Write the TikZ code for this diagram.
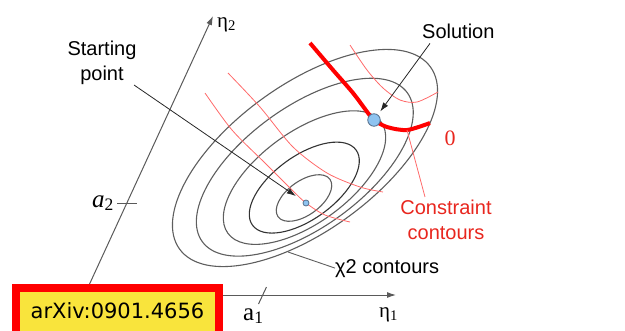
\documentclass[tikz,border=0pt]{standalone}
\usepackage{fontspec}
\newfontfamily\labfont{Liberation Sans}
\newfontfamily\symfont{Liberation Serif}
\newfontfamily\boxfont{DejaVu Sans}
\usepackage{tikz}
\usetikzlibrary{arrows.meta,positioning,calc}
\definecolor{AxisGrey}{HTML}{5A5A5A}
\definecolor{ContGrey}{HTML}{5E5E5E}
\definecolor{ThinRed}{HTML}{FF6A6A}
\definecolor{ConRed}{HTML}{FF0000}
\definecolor{LabelRed}{HTML}{E8261E}
\definecolor{DotBlue}{HTML}{8EC3F0}
\definecolor{DotEdge}{HTML}{56708C}
\definecolor{BoxRed}{HTML}{FF0000}
\definecolor{BoxYellow}{HTML}{F9E43C}
\tikzset{
  >={Latex[length=9pt,width=6pt]},
  lbl/.style={font=\labfont\fontsize{20}{25}\selectfont, align=center, inner sep=0pt},
  redlbl/.style={lbl, text=LabelRed},
  mathlbl/.style={font=\symfont\fontsize{21}{24}\selectfont, inner sep=0pt},
  biglbl/.style={font=\symfont\fontsize{25}{28}\selectfont, inner sep=0pt},
  axis/.style={->, draw=AxisGrey, line width=1pt},
  tickmark/.style={draw=AxisGrey, line width=1pt},
  chicont/.style={draw=ContGrey, line width=1.1pt},
  concont/.style={draw=ThinRed, line width=0.8pt},
  conzero/.style={draw=ConRed, line width=4pt},
  leader/.style={->, draw=black!85, line width=0.8pt},
  chileader/.style={draw=ContGrey, line width=0.9pt},
  soldot/.style={circle, fill=DotBlue, draw=DotEdge, line width=0.8pt, minimum size=12.5pt, inner sep=0pt},
  startdot/.style={circle, fill=DotBlue, draw=DotEdge, line width=0.8pt, minimum size=6pt, inner sep=0pt},
  arxiv/.style={draw=BoxRed, line width=8pt, fill=BoxYellow,
    font=\boxfont\fontsize{21}{24}\selectfont,
    minimum width=203pt, minimum height=50pt, text height=16pt, text depth=6pt, inner sep=0pt}
}

\begin{document}
\begin{tikzpicture}[x=1pt, y=-1pt]
  \clip (0,0) rectangle (625,330);

  % axes
  \coordinate (O) at (84.5,295);
  \coordinate (e1tip) at (396,295);
  \coordinate (e2tip) at (213,16);
  \draw[axis] (O) -- (e1tip);
  \draw[axis] (O) -- (e2tip);
  \draw[tickmark] (117,203) -- (137,203);
  \draw[tickmark] (258.5,304) -- (266.5,287);
  \node[mathlbl, anchor=base west] (eta1) at (379,317) {η\textsubscript{1}};
  \node[mathlbl, anchor=base west] (eta2) at (217,27) {η\textsubscript{2}};
  \node[biglbl, anchor=base west] (a2) at (92,207) {{\itshape a}\textsubscript{2}};
  \node[biglbl, anchor=base west] (a1) at (243,320) {a\textsubscript{1}};

  % chi2 contours
  \foreach \cx/\cy/\ra/\rb/\col in {304/198/32/17/ContGrey, 304.3/187.6/64/31.6/black!80,
      304.5/177.6/94.7/45.6/ContGrey, 304.8/167.2/126.7/60.1/ContGrey, 305/158/155/73/ContGrey}
    \draw[chicont, draw=\col, shift={(\cx,\cy)}, rotate=36] (0,0) ellipse [x radius=\ra, y radius=\rb];

  % constraint contours
  \draw[concont] plot[smooth] coordinates {(205,93) (232,130) (265,163) (292,190) (306,203) (325,215) (350,222)};
  \draw[concont] plot[smooth] coordinates {(228,73) (260,107) (293,147) (327,173) (360,187) (383,192)};
  \draw[concont] plot[smooth] coordinates {(350,45) (367,70) (383,88) (400,100) (417,102) (438,92)};
  \draw[conzero] plot[smooth] coordinates {(310,43) (333,70) (353,93) (368,113) (374,120) (387,127) (407,130) (430,123)};
  \node[text=LabelRed, font=\symfont\fontsize{22}{24}\selectfont, inner sep=0pt, anchor=base] (zero) at (450,145) {0};

  % points
  \node[startdot] (start) at (306,203) {};
  \node[soldot] (sol) at (374,120) {};

  % labels
  \node[lbl] (startlbl) at (102,63) {Starting\\point};
  \node[lbl, anchor=base west] (sollbl) at (422,38) {Solution};
  \node[redlbl] (conlbl) at (446,220) {Constraint\\contours};
  \node[lbl, anchor=base west] (chilbl) at (335,273) {χ2 contours};
  \coordinate (ck) at (407,130);
  \coordinate (ch) at (288,252);

  \draw[leader, shorten >=9pt] (startlbl) -- (start);
  \draw[leader, shorten >=4pt] ([shift={(8,5)}]sollbl.south west) -- (sol);
  \draw[concont] (ck) -- ([shift={(-21,-3)}]conlbl.north);
  \draw[chileader] (ch) -- (chilbl.west);

  \node[arxiv] (arx) at (117.5,313) {arXiv:0901.4656};
\end{tikzpicture}
\end{document}
